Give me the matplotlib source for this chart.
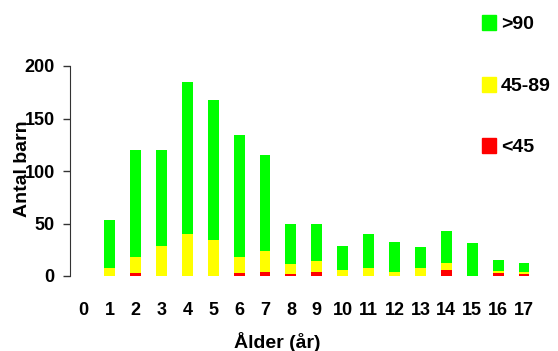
import matplotlib
matplotlib.use("Agg")
import matplotlib.pyplot as plt
import numpy as np

plt.rcParams['font.family'] = ['Liberation Sans', 'DejaVu Sans']

ages = list(range(0, 18))
under45 = [0, 0, 2.5, 0, 0, 0, 2.5, 3.5, 2, 4, 0, 0, 0, 0, 5.7, 0, 3, 2]
mid45_89 = [0, 7.6, 15.5, 28.6, 40.4, 34.4, 15.5, 20.5, 9.5, 10.3, 5.7, 7.6, 3.8, 7.6, 6.7, 0, 1.8, 1.8]
over90 = [0, 46, 102, 91.4, 144.6, 133.6, 116, 91, 38.2, 35.7, 22.9, 32.4, 28.7, 20.1, 30.6, 31.5, 10.5, 8.6]
colors = ['#ff0000', '#ffff00', '#00ff00']

W, H = 558, 351
fig = plt.figure(figsize=(W / 100, H / 100), dpi=100)
ax = fig.add_axes([70 / W, (H - 276) / H, (537 - 70) / W, (276 - 66) / H])

x = np.array(ages[1:])
b0 = np.array(under45[1:])
b1 = np.array(mid45_89[1:])
b2 = np.array(over90[1:])
ax.bar(x, b0, width=0.42, color=colors[0], linewidth=0)
ax.bar(x, b1, width=0.42, bottom=b0, color=colors[1], linewidth=0)
ax.bar(x, b2, width=0.42, bottom=b0 + b1, color=colors[2], linewidth=0)

ax.set_xlim(-0.53, 17.5)
ax.set_ylim(0, 200)
ax.set_yticks([0, 50, 100, 150, 200])
ax.set_xticks(ages)
ax.set_xticklabels([str(a) for a in ages])
for s in ['top', 'right', 'bottom']:
    ax.spines[s].set_visible(False)
ax.spines['left'].set_color('#333333')
ax.tick_params(axis='y', length=5, width=1, color='#333333', labelsize=13, pad=6)
ax.tick_params(axis='x', length=0, labelsize=13, pad=19)
for lab in ax.get_xticklabels() + ax.get_yticklabels():
    lab.set_fontweight('bold')

fig.text(27 / W, 1 - 169 / H, 'Antal barn', rotation=90, ha='center', va='baseline',
         fontsize=14, fontweight='bold', rotation_mode='anchor')
fig.text(277 / W, 1 - 348 / H, 'Ålder (år)', ha='center', va='baseline',
         fontsize=14, fontweight='bold')

# legend
leg_y = [22, 84, 145]
leg_labels = ['>90', '45-89', '<45']
leg_cols = [colors[2], colors[1], colors[0]]
for yy, lab, c in zip(leg_y, leg_labels, leg_cols):
    fig.patches.append(plt.Rectangle((482 / W, 1 - (yy + 7.5) / H), 14 / W, 15 / H,
                                     transform=fig.transFigure, color=c, figure=fig))
    fig.text(501 / W, 1 - (yy + 7) / H, lab, ha='left', va='baseline',
             fontsize=14, fontweight='bold')

fig.savefig('out.png', dpi=100)
